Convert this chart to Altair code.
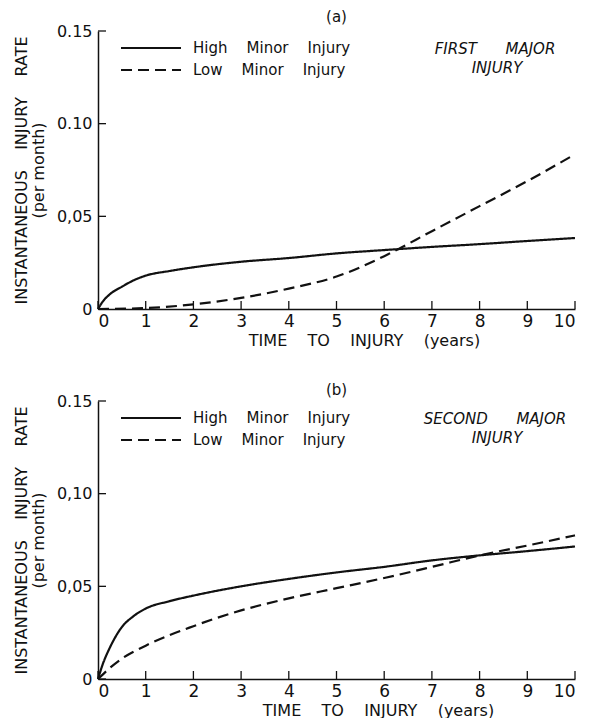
import altair as alt
import pandas as pd

# ---- data ----
series_names = ["High Minor Injury", "Low Minor Injury"]

years_a_high = [0, 0.1, 0.25, 0.5, 0.75, 1, 1.5, 2, 3, 4, 5, 6, 7, 8, 9, 10]
rate_a_high = [0, 0.004, 0.008, 0.012, 0.0155, 0.018, 0.0205, 0.0225, 0.0255, 0.0275,
               0.030, 0.0318, 0.0335, 0.035, 0.0367, 0.0383]
years_a_low = [0, 1, 2, 3, 4, 5, 6, 7, 8, 9, 10]
rate_a_low = [0, 0.0005, 0.0025, 0.006, 0.011, 0.0175, 0.0285, 0.042, 0.0555, 0.069, 0.0835]

years_b_high = [0, 0.1, 0.25, 0.5, 0.75, 1, 1.5, 2, 3, 4, 5, 6, 7, 8, 9, 10]
rate_b_high = [0, 0.008, 0.017, 0.028, 0.034, 0.038, 0.042, 0.045, 0.050, 0.054,
               0.0575, 0.0605, 0.064, 0.0667, 0.069, 0.0715]
years_b_low = [0, 0.25, 0.5, 1, 2, 3, 4, 5, 6, 7, 8, 9, 10]
rate_b_low = [0, 0.006, 0.011, 0.018, 0.0285, 0.037, 0.0435, 0.049, 0.0545, 0.0605,
              0.0667, 0.072, 0.0775]

x_ticks = [0, 1, 2, 3, 4, 5, 6, 7, 8, 9, 10]
y_ticks = [0, 0.05, 0.10, 0.15]
y_labels_a = ["0", "0,05", "0.10", "0.15"]
y_labels_b = ["0", "0,05", "0,10", "0.15"]

panel_titles = ["(a)", "(b)"]
panel_notes = [["FIRST MAJOR", "INJURY"], ["SECOND MAJOR", "INJURY"]]
x_title = "TIME TO INJURY (years)"
y_title = ["INSTANTANEOUS INJURY RATE", "(per month)"]

W, H = 477, 278
INK = "#111111"
FONT = "DejaVu Sans"
NB = "\u00a0"


def wide(s, n=2):
    return s.replace(" ", NB * n)


def label_expr(ticks, labels):
    expr = "''"
    for v, l in reversed(list(zip(ticks, labels))):
        expr = f"abs(datum.value - {v}) < 1e-6 ? '{l}' : ({expr})"
    return expr


def panel(title, xh, yh, xl, yl, ylabels, notes, title_x, title_offset):
    df = pd.concat([
        pd.DataFrame({"t": xh, "r": yh, "series": series_names[0]}),
        pd.DataFrame({"t": xl, "r": yl, "series": series_names[1]}),
    ])
    xscale = alt.Scale(domain=[0, 10], nice=False, zero=False)
    yscale = alt.Scale(domain=[0, 0.15], nice=False)
    xaxis = alt.Axis(
        values=x_ticks, ticks=False, grid=False, domainColor=INK, domainWidth=1.5,
        labelFontSize=17, labelPadding=4, labelColor=INK, labelFont=FONT,
        title=wide(x_title, 4), titleFontSize=16, titleFontWeight="normal",
        titleColor=INK, titleFont=FONT, titlePadding=3, titleX=title_x, titleAlign="center")
    yaxis = alt.Axis(
        values=y_ticks, ticks=False, grid=False, domainColor=INK, domainWidth=1.5,
        labelFontSize=16, labelPadding=6, labelColor=INK, labelFont=FONT,
        labelExpr=label_expr(y_ticks, ylabels),
        title=[wide(y_title[0], 4), wide(y_title[1], 1)], titleFontSize=16,
        titleFontWeight="normal", titleColor=INK, titleFont=FONT, titlePadding=10,
        titleLineHeight=17)

    lines = alt.Chart(df).mark_line(strokeWidth=2.2, color=INK, interpolate="monotone").encode(
        x=alt.X("t:Q", scale=xscale, axis=xaxis),
        y=alt.Y("r:Q", scale=yscale, axis=yaxis),
        strokeDash=alt.StrokeDash("series:N", scale=alt.Scale(domain=series_names,
                                  range=[[1, 0], [11, 6]]), legend=None),
        detail="series:N",
    )

    xt = alt.Chart(pd.DataFrame({"t": x_ticks})).mark_rule(color=INK, strokeWidth=1.3).encode(
        x=alt.X("t:Q", scale=xscale, axis=xaxis), y=alt.value(H), y2=alt.value(H - 8))
    yt = alt.Chart(pd.DataFrame({"r": y_ticks})).mark_rule(color=INK, strokeWidth=1.3).encode(
        y=alt.Y("r:Q", scale=yscale, axis=yaxis), x=alt.value(0), x2=alt.value(8))

    leg_solid = alt.Chart(pd.DataFrame({"s": [series_names[0]]})).mark_rule(
        color=INK, strokeWidth=2.2).encode(x=alt.value(23), x2=alt.value(83), y=alt.value(17))
    leg_dash = alt.Chart(pd.DataFrame({"s": [series_names[1]]})).mark_rule(
        color=INK, strokeWidth=2.2, strokeDash=[11, 6]).encode(
        x=alt.value(23), x2=alt.value(83), y=alt.value(39))
    leg_txt1 = alt.Chart(pd.DataFrame({"s": [series_names[0]]})).mark_text(
        align="left", baseline="middle", fontSize=15, font=FONT, color=INK).encode(
        x=alt.value(95), y=alt.value(17), text=alt.value(wide(series_names[0], 4)))
    leg_txt2 = alt.Chart(pd.DataFrame({"s": [series_names[1]]})).mark_text(
        align="left", baseline="middle", fontSize=15, font=FONT, color=INK).encode(
        x=alt.value(95), y=alt.value(39), text=alt.value(wide(series_names[1], 4)))
    note1 = alt.Chart(pd.DataFrame({"s": [notes[0]]})).mark_text(
        align="center", baseline="middle", fontSize=15, font=FONT, fontStyle="italic",
        color=INK).encode(x=alt.value(397), y=alt.value(18), text=alt.value(wide(notes[0], 6)))
    note2 = alt.Chart(pd.DataFrame({"s": [notes[1]]})).mark_text(
        align="center", baseline="middle", fontSize=15, font=FONT, fontStyle="italic",
        color=INK).encode(x=alt.value(399), y=alt.value(37), text=alt.value(notes[1]))

    return alt.layer(lines, xt, yt, leg_solid, leg_dash, leg_txt1, leg_txt2, note1, note2).properties(
        width=W, height=H,
        title=alt.Title(title, fontSize=15, fontWeight="normal", font=FONT, color=INK,
                        offset=title_offset),
    )


top = panel(panel_titles[0], years_a_high, rate_a_high, years_a_low, rate_a_low,
            y_labels_a, panel_notes[0], 266, -2)
bottom = panel(panel_titles[1], years_b_high, rate_b_high, years_b_low, rate_b_low,
               y_labels_b, panel_notes[1], 280, -5)

chart = alt.vconcat(top, bottom, spacing=35).properties(
    padding={"left": 5, "top": 2, "right": 5, "bottom": 0}
).configure(background="white", view=alt.ViewConfig(stroke=None))

chart.save("out.html", embed_options={"renderer": "svg", "actions": False})
